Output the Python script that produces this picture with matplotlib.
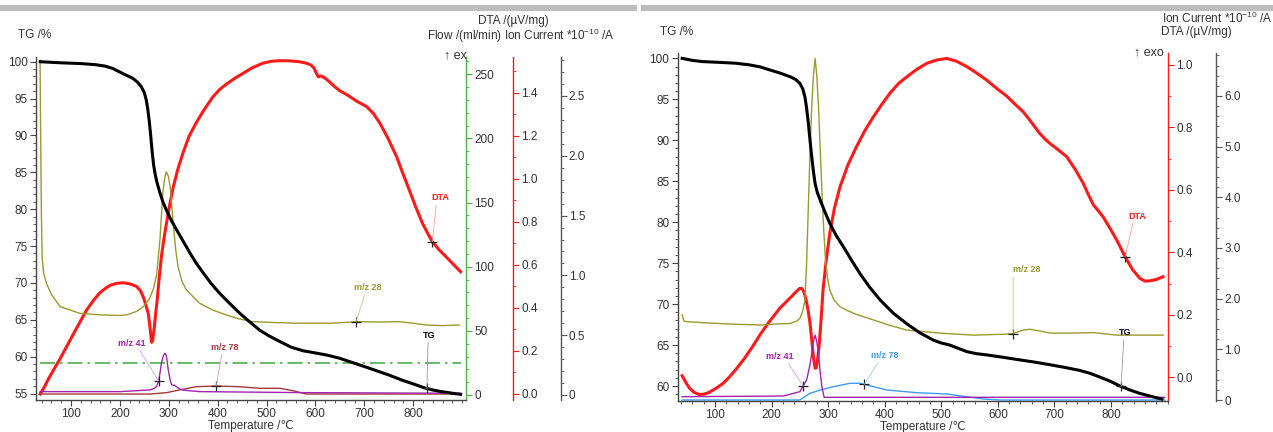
import numpy as np
import matplotlib.pyplot as plt
from matplotlib.patches import Rectangle
from matplotlib.ticker import MultipleLocator, FuncFormatter

plt.rcParams['font.family'] = ['Liberation Sans', 'DejaVu Sans']
plt.rcParams['font.size'] = 8.5
plt.rcParams['mathtext.fontset'] = 'custom'
plt.rcParams['mathtext.rm'] = 'Liberation Sans'

W, H = 1273, 432

# ---------------- left run ----------------
tg_T_L = [37, 80, 120, 150, 170, 185, 200, 212, 225, 235, 244, 250, 254, 257, 260, 263, 266, 269, 272, 276,
          282, 288, 295, 305, 316, 330, 343, 356, 370, 387, 404, 425, 445, 466, 486, 503, 520, 535, 550, 575,
          601, 625, 649, 676, 703, 727, 751, 778, 805, 822, 839, 855, 870, 885, 897]
tg_L = [100.0, 99.85, 99.75, 99.6, 99.4, 99.1, 98.6, 98.2, 97.8, 97.3, 96.6, 95.8, 94.8, 93.6, 92.0, 90.0,
        87.8, 86.0, 84.8, 83.6, 82.2, 81.0, 79.9, 78.5, 77.2, 75.6, 74.1, 72.7, 71.4, 69.9, 68.6, 67.2, 65.9,
        64.7, 63.6, 62.9, 62.3, 61.8, 61.3, 60.8, 60.5, 60.2, 59.8, 59.2, 58.6, 58.05, 57.5, 56.8, 56.2, 55.8,
        55.5, 55.3, 55.15, 55.0, 54.9]

dta_T_L = [37, 45, 55, 64, 78, 91, 110, 132, 146, 159, 170, 180, 193, 207, 220, 234, 242, 248, 253, 258, 261,
           263, 265, 267, 270, 273, 276, 280, 285, 290, 295, 302, 309, 318, 329, 342, 356, 372, 390, 404, 418,
           435, 452, 470, 492, 510, 527, 547, 567, 580, 590, 597, 602, 606, 611, 617, 625, 636, 649, 665, 685,
           705, 718, 732, 748, 766, 778, 792, 805, 819, 830, 839, 853, 867, 882, 897]
dta_L = [0.0, 0.03, 0.075, 0.11, 0.165, 0.22, 0.30, 0.39, 0.435, 0.47, 0.49, 0.505, 0.514, 0.517, 0.512,
         0.50, 0.48, 0.45, 0.415, 0.375, 0.32, 0.28, 0.24, 0.25, 0.30, 0.37, 0.43, 0.53, 0.64, 0.72, 0.79,
         0.88, 0.96, 1.04, 1.12, 1.20, 1.26, 1.32, 1.38, 1.415, 1.44, 1.467, 1.49, 1.515, 1.537, 1.546, 1.549,
         1.548, 1.544, 1.538, 1.53, 1.515, 1.49, 1.474, 1.478, 1.472, 1.458, 1.435, 1.41, 1.39, 1.36, 1.335,
         1.305, 1.258, 1.19, 1.103, 1.03, 0.948, 0.87, 0.793, 0.745, 0.708, 0.67, 0.638, 0.603, 0.568]

m28_T_L = [36.7, 37.5, 38.5, 39.5, 41, 44, 50, 60, 78, 118, 160, 200, 214, 235, 248, 260, 268, 275, 282,
           288, 292, 295, 299, 303, 309, 314, 319, 327, 336, 363, 390, 418, 445, 472, 520, 567, 635, 683, 730,
           771, 800, 826, 860, 894]
m28_L = [2.80, 2.4, 1.9, 1.5, 1.15, 1.02, 0.93, 0.84, 0.738, 0.683, 0.67, 0.665, 0.67, 0.70, 0.74, 0.80,
         0.88, 1.0, 1.30, 1.70, 1.82, 1.867, 1.83, 1.74, 1.44, 1.22, 1.07, 0.95, 0.878, 0.767, 0.71, 0.669,
         0.635, 0.613, 0.605, 0.60, 0.60, 0.613, 0.61, 0.613, 0.60, 0.585, 0.58, 0.585]

m41_T_L = [37, 200, 261, 270, 275, 280, 285, 289, 292, 295, 299, 303, 306, 312, 316, 322, 330, 363, 567, 897]
m41_L = [0.028, 0.028, 0.042, 0.055, 0.07, 0.13, 0.265, 0.33, 0.349, 0.33, 0.209, 0.12, 0.085, 0.08,
         0.069, 0.05, 0.04, 0.028, 0.02, 0.014]

m78_T_L = [37, 261, 295, 329, 356, 397, 445, 486, 527, 554, 581, 600, 897]
m78_L = [0.008, 0.008, 0.019, 0.048, 0.069, 0.075, 0.069, 0.056, 0.056, 0.036, 0.008, 0.008, 0.008]

flow_T_L = [37, 897]
flow_L = [25.2, 25.2]

# ---------------- right run ----------------
tg_T_R = [42, 60, 78, 110, 137, 161, 180, 196, 215, 233, 243, 250, 255, 259, 262, 265, 268, 271, 274, 277,
          281, 286, 294, 303, 314, 327, 341, 356, 373, 392, 415, 439, 462, 486, 500, 515, 530, 545, 562, 580,
          605, 633, 662, 692, 720, 745, 763, 780, 798, 816, 834, 851, 870, 890]
tg_R = [100.0, 99.75, 99.6, 99.5, 99.4, 99.2, 98.95, 98.6, 98.2, 97.75, 97.4, 96.95, 96.3, 95.3, 93.9, 92.1,
        90.0, 88.0, 86.2, 84.7, 83.6, 82.7, 81.3, 79.85, 78.4, 77.0, 75.4, 73.75, 72.1, 70.5, 68.9, 67.6,
        66.5, 65.6, 65.25, 65.0, 64.6, 64.2, 63.95, 63.8, 63.55, 63.25, 62.95, 62.6, 62.25, 61.9, 61.55, 61.1,
        60.6, 60.0, 59.5, 59.1, 58.75, 58.4]

dta_T_R = [42, 48, 55, 63, 72, 81, 90, 102, 114, 125, 137, 152, 167, 181, 196, 215, 235, 244, 250, 254, 258,
           262, 265, 268, 271, 274, 277, 279, 281, 284, 287, 291, 297, 303, 311, 321, 335, 350, 365, 380, 395,
           409, 424, 439, 456, 474, 492, 510, 527, 545, 562, 580, 598, 616, 630, 645, 660, 674, 684, 692, 707,
           722, 737, 751, 760, 769, 778, 786, 798, 810, 825, 838, 851, 860, 869, 880, 892]
dta_R = [0.005, -0.015, -0.035, -0.048, -0.055, -0.054, -0.048, -0.035, -0.02, 0.0, 0.025, 0.06, 0.10,
         0.14, 0.178, 0.222, 0.258, 0.275, 0.285, 0.284, 0.27, 0.24, 0.21, 0.173, 0.12, 0.065, 0.029, 0.03,
         0.05, 0.10, 0.17, 0.28, 0.38, 0.461, 0.54, 0.61, 0.68, 0.738, 0.79, 0.834, 0.874, 0.909, 0.94, 0.962,
         0.985, 1.005, 1.016, 1.021, 1.012, 0.995, 0.975, 0.952, 0.925, 0.90, 0.875, 0.85, 0.815, 0.781,
         0.762, 0.749, 0.728, 0.706, 0.665, 0.621, 0.585, 0.552, 0.532, 0.514, 0.478, 0.44, 0.386, 0.345,
         0.317, 0.308, 0.309, 0.313, 0.322]

m28_T_R = [42, 44, 46, 78, 137, 184, 208, 233, 245, 250, 255, 259, 262, 265, 268, 271, 274, 277, 280, 283,
           286, 289, 292, 295, 299, 303, 310, 321, 335, 350, 380, 410, 439, 498, 557, 616, 627, 645, 657, 675,
           692, 730, 769, 810, 869, 892]
m28_R = [1.68, 1.60, 1.55, 1.526, 1.494, 1.48, 1.50, 1.51, 1.56, 1.61, 1.75, 1.97, 2.7, 3.81, 4.9, 5.79,
         6.4, 6.74, 6.4, 5.79, 4.95, 4.14, 3.4, 2.83, 2.4, 2.17, 1.98, 1.84, 1.76, 1.69, 1.58, 1.47, 1.38,
         1.32, 1.28, 1.30, 1.31, 1.38, 1.395, 1.36, 1.32, 1.32, 1.33, 1.28, 1.28, 1.28]

m41_T_R = [42, 221, 250, 262, 268, 271, 274, 277, 280, 283, 286, 289, 293, 309, 895]
m41_R = [0.065, 0.079, 0.164, 0.395, 0.70, 0.92, 1.15, 1.28, 1.15, 0.92, 0.55, 0.26, 0.053, 0.053, 0.053]

m78_T_R = [42, 250, 268, 286, 309, 339, 356, 368, 404, 457, 510, 545, 574, 604, 895]
m78_R = [0.0, 0.0, 0.132, 0.197, 0.262, 0.33, 0.33, 0.296, 0.197, 0.144, 0.118, 0.065, 0.02, 0.0, 0.0]

x_ticks = [100, 200, 300, 400, 500, 600, 700, 800]

OLIVE = '#9a9a2e'
PURPLE = '#a224b0'
MAROON = '#a33a3a'
BLUE = '#3d9bf0'
GREEN = '#4cb04c'
RED = '#ff1a1a'
DARK = '#333333'


def rect(x0, y0, x1, y1):
    return [x0 / W, 1 - y1 / H, (x1 - x0) / W, (y1 - y0) / H]


def fmt_zero(dec):
    return FuncFormatter(lambda v, _: '0' if abs(v) < 1e-9 else f'{v:.{dec}f}')


def base_axis(ax, xlim, ylim):
    ax.set_xlim(*xlim)
    ax.set_ylim(*ylim)
    for s in ['top', 'right']:
        ax.spines[s].set_visible(False)
    for s in ['left', 'bottom']:
        ax.spines[s].set_color('#444444')
        ax.spines[s].set_linewidth(1.0)
    ax.set_xticks(x_ticks)
    ax.xaxis.set_minor_locator(MultipleLocator(20))
    ax.yaxis.set_major_locator(MultipleLocator(5))
    ax.yaxis.set_minor_locator(MultipleLocator(1))
    ax.tick_params(which='both', direction='out', colors='#444444', labelcolor=DARK, labelsize=8.5)
    ax.tick_params(which='major', length=4, width=0.8, pad=2)
    ax.tick_params(which='minor', length=2.5, width=0.6)
    ax.set_xlabel('Temperature /℃', fontsize=8.5, color=DARK, labelpad=0)


def twin(ax, pos, color, ylim, major, minor, fmt):
    t = ax.twinx()
    t.set_ylim(*ylim)
    for s in ['left', 'top', 'bottom']:
        t.spines[s].set_visible(False)
    t.spines['right'].set_position(('axes', pos))
    t.spines['right'].set_color(color)
    t.spines['right'].set_linewidth(1.0)
    t.yaxis.set_major_locator(MultipleLocator(major))
    t.yaxis.set_minor_locator(MultipleLocator(minor))
    t.yaxis.set_major_formatter(fmt)
    t.tick_params(which='both', direction='out', color=color, labelcolor=DARK, labelsize=8.5)
    t.tick_params(which='major', length=4, width=0.8, pad=2)
    t.tick_params(which='minor', length=2.5, width=0.6)
    return t


def tag(ax, text, color, lcolor, Tm, xs, ys, Tt, yt, rel=(0.5, 0), ha='center'):
    ym = np.interp(Tm, xs, ys)
    ax.plot([Tm], [ym], marker='+', color='#222222', ms=7, mew=0.9, zorder=8)
    ax.annotate(text, xy=(Tm, ym), xytext=(Tt, yt), color=color, fontsize=6.5, fontweight='bold',
                ha=ha, va='bottom', zorder=8,
                arrowprops=dict(arrowstyle='-', color=lcolor, lw=0.6, shrinkA=0, shrinkB=0, relpos=rel))


fig = plt.figure(figsize=(W / 100, H / 100), dpi=100)

# top grey bars
fig.add_artist(Rectangle((0, 1 - 11 / H), 637 / W, 6 / H, transform=fig.transFigure, color='#bdbdbd', lw=0))
fig.add_artist(Rectangle((641 / W, 1 - 11 / H), (W - 641) / W, 6 / H, transform=fig.transFigure,
                         color='#bdbdbd', lw=0))

# ================= left panel =================
axL = fig.add_axes(rect(36, 57, 466, 400))
base_axis(axL, (28.4, 908), (54.13, 100.64))
flowL = twin(axL, 1.0, GREEN, (-3.9, 263.5), 50, 10, fmt_zero(0))
dtaL = twin(axL, 1.109, RED, (-0.028, 1.566), 0.2, 0.1, FuncFormatter(lambda v, _: f'{v:.1f}'))
ionL = twin(axL, 1.220, '#555555', (-0.042, 2.826), 0.5, 0.1, fmt_zero(1))

flowL.plot(flow_T_L, flow_L, color=GREEN, lw=1.2, ls=(0, (9, 3, 1.5, 3)))
ionL.plot(m78_T_L, m78_L, color=MAROON, lw=1.0)
ionL.plot(m41_T_L, m41_L, color=PURPLE, lw=1.0)
ionL.plot(m28_T_L, m28_L, color=OLIVE, lw=1.0)
dtaL.plot(dta_T_L, dta_L, color=RED, lw=2.2)
axL.plot(tg_T_L, tg_L, color='black', lw=2.2)
axL.set_zorder(ionL.get_zorder() + 1)
axL.patch.set_visible(False)

tag(dtaL, 'DTA', RED, '#ff9a9a', 839, dta_T_L, dta_L, 855, 0.89, rel=(0.3, 0))
tag(axL, 'TG', 'black', '#999999', 828, tg_T_L, tg_L, 833, 62.3, rel=(0.4, 0))
tag(ionL, 'm/z 28', OLIVE, '#c8c890', 683, m28_T_L, m28_L, 708, 0.86, rel=(0.4, 0))
tag(ionL, 'm/z 41', PURPLE, '#d9a0e0', 279, m41_T_L, m41_L, 224, 0.39, rel=(0.75, 0))
tag(ionL, 'm/z 78', MAROON, '#d8a0a0', 397, m78_T_L, m78_L, 415, 0.36, rel=(0.4, 0))

fig.text(18 / W, 1 - 35 / H, 'TG /%', va='center', ha='left', color=DARK)
fig.text(513 / W, 1 - 21 / H, 'DTA /(µV/mg)', va='center', ha='center', color=DARK)
fig.text(614 / W, 1 - 36 / H, r'Flow /(ml/min) Ion Current *10$^{\mathregular{-10}}$ /A', va='center',
         ha='right', color=DARK)
fig.text(467 / W, 1 - 55 / H, '↑ ex', va='center', ha='right', color=DARK, fontsize=9)

# ================= right panel =================
axR = fig.add_axes(rect(677.7, 53, 1168, 401))
base_axis(axR, (34.1, 900.8), (58.17, 100.65))
dtaR = twin(axR, 1.0, RED, (-0.0759, 1.0384), 0.2, 0.1, FuncFormatter(lambda v, _: f'{v:.1f}'))
ionR = twin(axR, 1.098, '#555555', (-0.0197, 6.848), 1.0, 0.2, fmt_zero(1))

ionR.plot(m78_T_R, m78_R, color=BLUE, lw=1.0)
ionR.plot(m41_T_R, m41_R, color=PURPLE, lw=1.0)
ionR.plot(m28_T_R, m28_R, color=OLIVE, lw=1.0)
dtaR.plot(dta_T_R, dta_R, color=RED, lw=2.2)
axR.plot(tg_T_R, tg_R, color='black', lw=2.2)
axR.set_zorder(ionR.get_zorder() + 1)
axR.patch.set_visible(False)

tag(dtaR, 'DTA', RED, '#ff9a9a', 825, dta_T_R, dta_R, 846, 0.50, rel=(0.3, 0))
tag(axR, 'TG', 'black', '#999999', 818, tg_T_R, tg_R, 825, 66.0, rel=(0.4, 0))
tag(ionR, 'm/z 28', OLIVE, '#c8c890', 627, m28_T_R, m28_R, 627, 2.48, rel=(0.0, 0), ha='left')
tag(ionR, 'm/z 41', PURPLE, '#d9a0e0', 256, m41_T_R, m41_R, 215, 0.76, rel=(0.75, 0))
tag(ionR, 'm/z 78', BLUE, '#9ccaf5', 364, m78_T_R, m78_R, 400, 0.78, rel=(0.3, 0))

fig.text(660 / W, 1 - 32 / H, 'TG /%', va='center', ha='left', color=DARK)
fig.text(1272 / W, 1 - 18 / H, r'Ion Current *10$^{\mathregular{-10}}$ /A', va='center', ha='right',
         color=DARK)
fig.text(1161 / W, 1 - 32 / H, 'DTA /(µV/mg)', va='center', ha='left', color=DARK)
fig.text(1164 / W, 1 - 52 / H, '↑ exo', va='center', ha='right', color=DARK, fontsize=9)

fig.savefig('out.png', dpi=100)
